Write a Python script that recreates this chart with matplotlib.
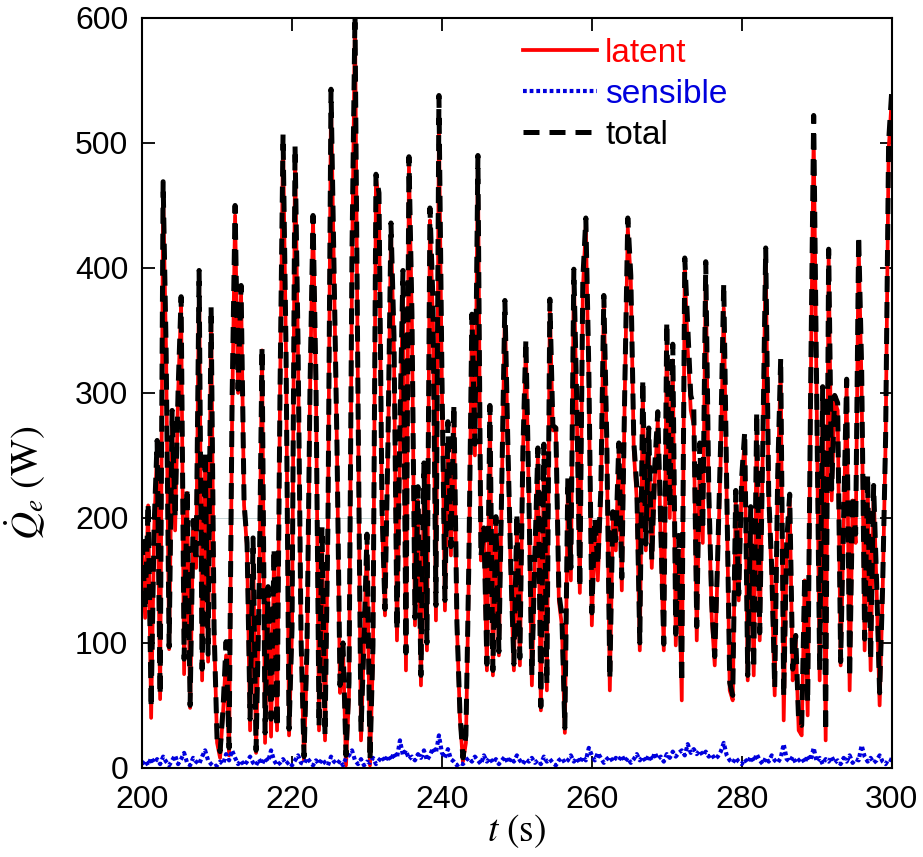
import numpy as np
import matplotlib
matplotlib.use("Agg")
from matplotlib import pyplot as plt

# time grid (s), 0.4 s step
t = np.linspace(200, 300, 251)

# latent heat rate (W) in 2 s blocks
latent = [
    180, 120, 210, 40, 190,
    255, 55, 460, 330, 95,
    280, 190, 300, 370, 75,
    220, 48, 190, 160, 395,
    70, 240, 85, 366, 110,
    20, 8, 45, 90, 10,
    280, 442, 300, 380, 210,
    175, 30, 180, 12, 130,
    334, 20, 140, 25, 170,
    30, 300, 500, 330, 26,
    110, 492, 330, 100, 6,
    90, 300, 440, 300, 30,
    186, 22, 198, 534, 394,
    254, 60, 98, 2, 58,
    400, 598, 294, 22, 100,
    182, 2, 90, 472, 454,
    200, 122, 250, 430, 334,
    102, 254, 388, 78, 482,
    354, 114, 214, 66, 230,
    94, 438, 358, 118, 512,
    302, 126, 262, 170, 286,
    114, 40, 5, 20, 160,
    358, 250, 484, 166, 182,
    78, 282, 74, 194, 90,
    230, 365, 254, 150, 78,
    194, 82, 250, 336, 214,
    66, 166, 250, 46, 250,
    62, 368, 270, 270, 134,
    114, 28, 226, 150, 394,
    282, 140, 382, 434, 302,
    114, 194, 150, 214, 374,
    254, 62, 200, 174, 254,
    142, 300, 432, 390, 254,
    214, 94, 302, 174, 262,
    160, 230, 278, 182, 94,
    346, 200, 326, 98, 174,
    54, 398, 334, 286, 274,
    102, 246, 180, 392, 214,
    120, 82, 162, 250, 368,
    214, 62, 54, 214, 134,
    230, 262, 70, 200, 74,
    274, 102, 250, 408, 214,
    150, 58, 230, 320, 38,
    174, 214, 70, 102, 30,
    26, 150, 42, 300, 506,
    294, 70, 302, 22, 410,
    214, 294, 286, 82, 194,
    306, 62, 214, 180, 420,
    302, 94, 230, 78, 222,
    142, 50, 140, 262, 494,
    534,
]

# sensible heat rate (W), 4 s blocks
sensible = [
    3, 6, 2, 8, 4, 7, 3, 9, 5, 2,
    6, 10, 3, 7, 12, 4, 2, 8, 5, 3,
    9, 14, 6, 3, 1, 2, 5, 3, 11, 6,
    14, 8, 3, 6, 2, 5, 9, 4, 2, 7,
    3, 8, 5, 14, 6, 2, 4, 7, 3, 5,
    2, 6, 10, 4, 3, 8, 5, 2, 6, 3,
    7, 4, 2, 9, 5, 3, 6, 2, 8, 10,
    14, 6, 3, 7, 2, 5, 4, 8, 3, 6,
    9, 5, 10, 6, 12, 8, 22, 10, 14, 7,
    9, 6, 11, 8, 14, 6, 10, 16, 12, 26,
    12, 8, 15, 7, 5, 2, 4, 3, 6, 8,
    5, 9, 6, 3, 10, 5, 8, 4, 7, 3,
    6, 9, 4, 8, 5, 10, 6, 3, 7, 5,
    8, 4, 6, 3, 9, 5, 7, 4, 2, 6,
    8, 4, 6, 10, 5, 8, 4, 9, 6, 16,
    10, 6, 12, 8, 4, 7, 9, 5, 8, 6,
    10, 5, 8, 4, 7, 11, 6, 9, 5, 10,
    6, 12, 7, 9, 5, 11, 8, 13, 9, 12,
    14, 10, 19, 12, 15, 11, 14, 10, 13, 9,
    11, 7, 9, 13, 20, 10, 6, 4, 8, 5,
    3, 7, 4, 9, 5, 11, 6, 3, 8, 5,
    10, 6, 4, 8, 19, 7, 5, 9, 4, 6,
    8, 4, 10, 6, 16, 5, 8, 3, 7, 5,
    9, 4, 6, 3, 8, 5, 10, 4, 7, 6,
    18, 9, 5, 8, 4, 6, 10, 5, 3, 7,
    6,
]

latent = np.array(latent, dtype=float)
sensible = np.array(sensible, dtype=float)
total = latent + sensible

plt.rcParams['font.family'] = ['Liberation Sans', 'DejaVu Sans']
plt.rcParams['mathtext.fontset'] = 'stix'

fig = plt.figure(figsize=(9.23, 8.57), dpi=100)
ax = fig.add_axes([0.154, 0.104, 0.812, 0.875])

ax.axhline(200, color='#b8cccc', lw=0.6, zorder=0)
ax.plot(t, latent, color='#ff0000', lw=2.7, label='latent')
ax.plot(t, sensible, color='#0000dd', lw=3.0, dashes=(0.9, 0.7), label='sensible')
ax.plot(t, total, color='black', lw=3.6, dashes=(3.2, 2.0), label='total')

ax.set_xlim(200, 300)
ax.set_ylim(0, 600)
ax.set_xticks(np.arange(200, 301, 20))
ax.set_yticks(np.arange(0, 601, 100))
ax.tick_params(direction='in', length=9, width=1.3, top=True, right=True,
               labelsize=23)
ax.tick_params(axis='x', pad=12)
ax.tick_params(axis='y', pad=10)
for s in ax.spines.values():
    s.set_linewidth(1.5)

ax.set_xlabel(r'$t\ \mathrm{(s)}$', fontsize=27, labelpad=-2)
ax.set_ylabel(r'$\dot{Q}_e\ \mathrm{(W)}$', fontsize=28)
ax.yaxis.set_label_coords(-0.125, 0.38)

leg = ax.legend(loc='upper left', bbox_to_anchor=(0.482, 1.0), frameon=False,
                fontsize=24, handlelength=2.2, handletextpad=0.25,
                labelspacing=0.3, borderaxespad=0.2)
for txt, ln in zip(leg.get_texts(), leg.get_lines()):
    txt.set_color(ln.get_color())

fig.savefig('out.png', dpi=100)
